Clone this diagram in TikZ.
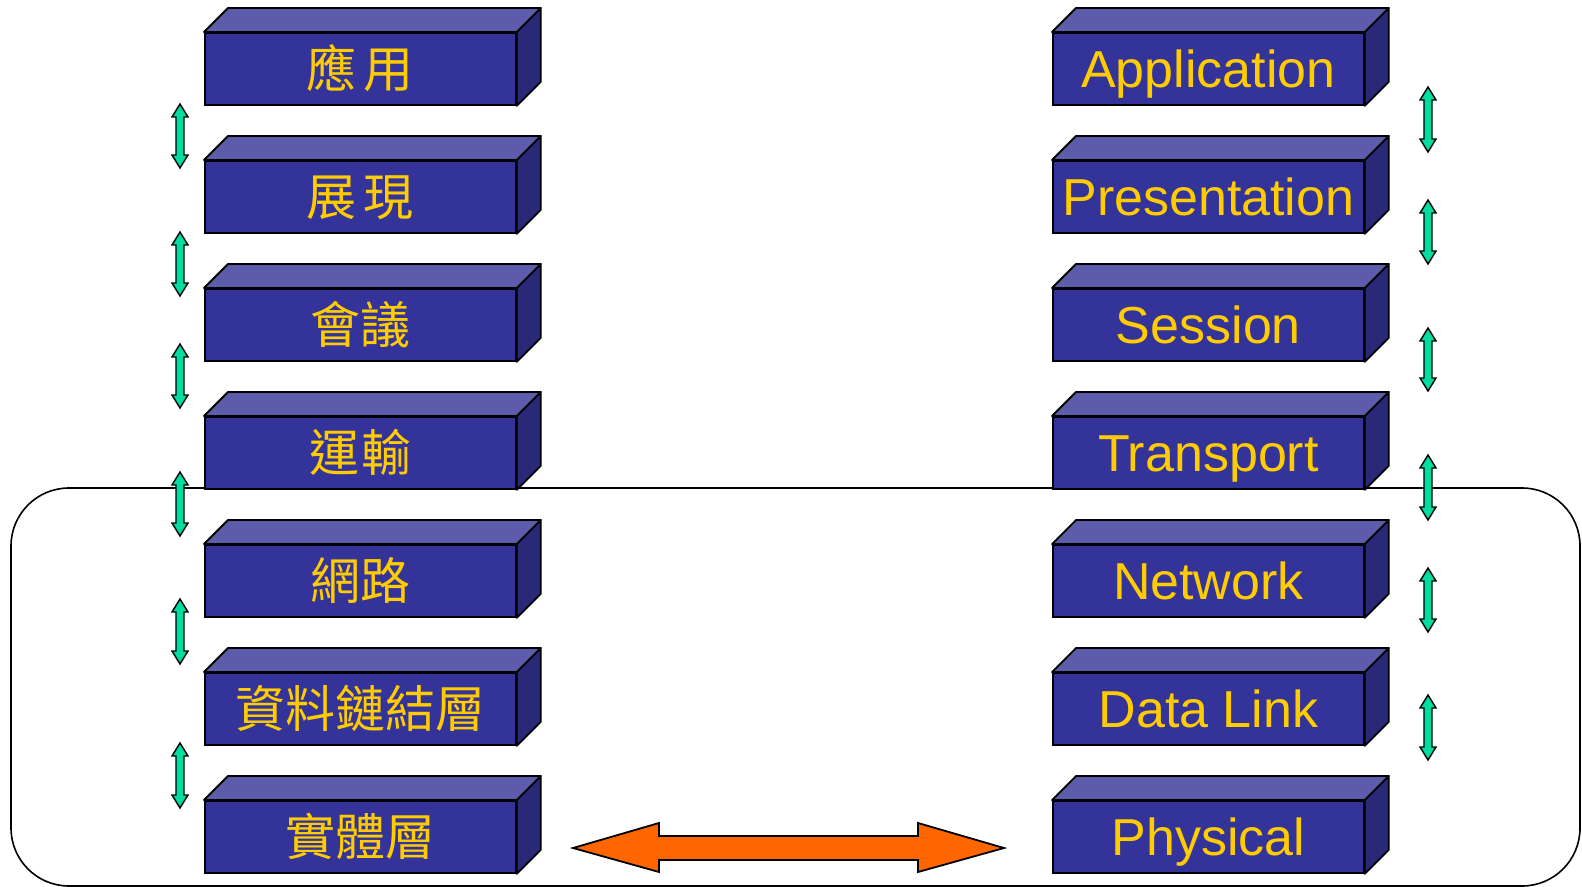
\documentclass[tikz,border=0pt]{standalone}
\usepackage{fontspec}
\setmainfont{Liberation Sans}
\newfontfamily\cjk{Noto Sans CJK TC}
\usetikzlibrary{calc}

\definecolor{facefront}{RGB}{51,51,153}
\definecolor{facetop}{RGB}{92,92,170}
\definecolor{faceside}{RGB}{41,41,120}
\definecolor{gold}{RGB}{255,204,0}
\definecolor{linkgreen}{RGB}{0,221,160}
\definecolor{wireorange}{RGB}{255,102,0}

% vertical double arrow between two neighbouring layers
\newcommand\updown[3]{%
  \draw[updown] (#1,#2) -- ++(8,13) -- ++(-4,0) -- ({#1+4},{#3-13}) -- ++(4,0)
    -- (#1,#3) -- ++(-8,-13) -- ++(4,0) -- ({#1-4},{#2+13}) -- ++(-4,0) -- cycle;}

\begin{document}
\begin{tikzpicture}[
      x=0.5pt, y=-0.5pt,
      layer/.style={
        draw=black,
        fill=facefront,
        line width=0.9pt,
        minimum width=155.5pt,
        minimum height=36pt,
        inner sep=0pt,
        anchor=north west,
        text=gold
      },
      topface/.style={draw=black, fill=facetop, line width=0.9pt, line join=round},
      sideface/.style={draw=black, fill=faceside, line width=0.9pt, line join=round},
      zh/.style={font=\cjk\fontsize{25}{28}\selectfont, text height=19pt, text depth=0pt},
      en/.style={font=\fontsize{26}{30}\selectfont, text height=19pt, text depth=0pt},
      updown/.style={draw=black, fill=linkgreen, line width=0.7pt},
      wire/.style={draw=black, fill=wireorange, line width=0.9pt}
    ]
    \useasboundingbox (0,0) rectangle (1582,887);

    % lower layers frame
    \draw[line width=0.8pt, rounded corners=29pt] (11,488) rectangle (1580,886);

    % left stack
    \foreach \lbl [count=\i from 0] in {應\kern3.5pt用, 展\kern3.5pt現, 會議, 運\kern1pt輸,
        網路, 資料鏈結層, 實體層} {
      \node[layer, zh] (L\i) at (204,{32+128*\i}) {\lbl};
      \draw[topface] (L\i.north west) -- ++(24,-24) -- ($(L\i.north east)+(24,-24)$) -- (L\i.north east) -- cycle;
      \draw[sideface] (L\i.north east) -- ++(24,-24) -- ($(L\i.south east)+(24,-24)$) -- (L\i.south east) -- cycle;
    }

    % right stack
    \foreach \lbl [count=\i from 0] in {Application, Presentation, Session, Transport,
        Network, Data Link, Physical} {
      \node[layer, en] (R\i) at (1052,{32+128*\i}) {\lbl};
      \draw[topface] (R\i.north west) -- ++(24,-24) -- ($(R\i.north east)+(24,-24)$) -- (R\i.north east) -- cycle;
      \draw[sideface] (R\i.north east) -- ++(24,-24) -- ($(R\i.south east)+(24,-24)$) -- (R\i.south east) -- cycle;
    }

    % links between layers
    \foreach \ya/\yb in {104/168, 232/296, 344/408, 472/536, 599/664, 743/808}
      \updown{180}{\ya}{\yb};
    \foreach \ya/\yb in {87/152, 200/264, 328/391, 455/520, 568/632, 695/760}
      \updown{1428}{\ya}{\yb};

    % physical medium
    \draw[wire] (573,848) -- (659,823) -- (659,836) -- (918,836) -- (918,823) -- (1004,848)
      -- (918,872) -- (918,860) -- (659,860) -- (659,872) -- cycle;

  \end{tikzpicture}
\end{document}
